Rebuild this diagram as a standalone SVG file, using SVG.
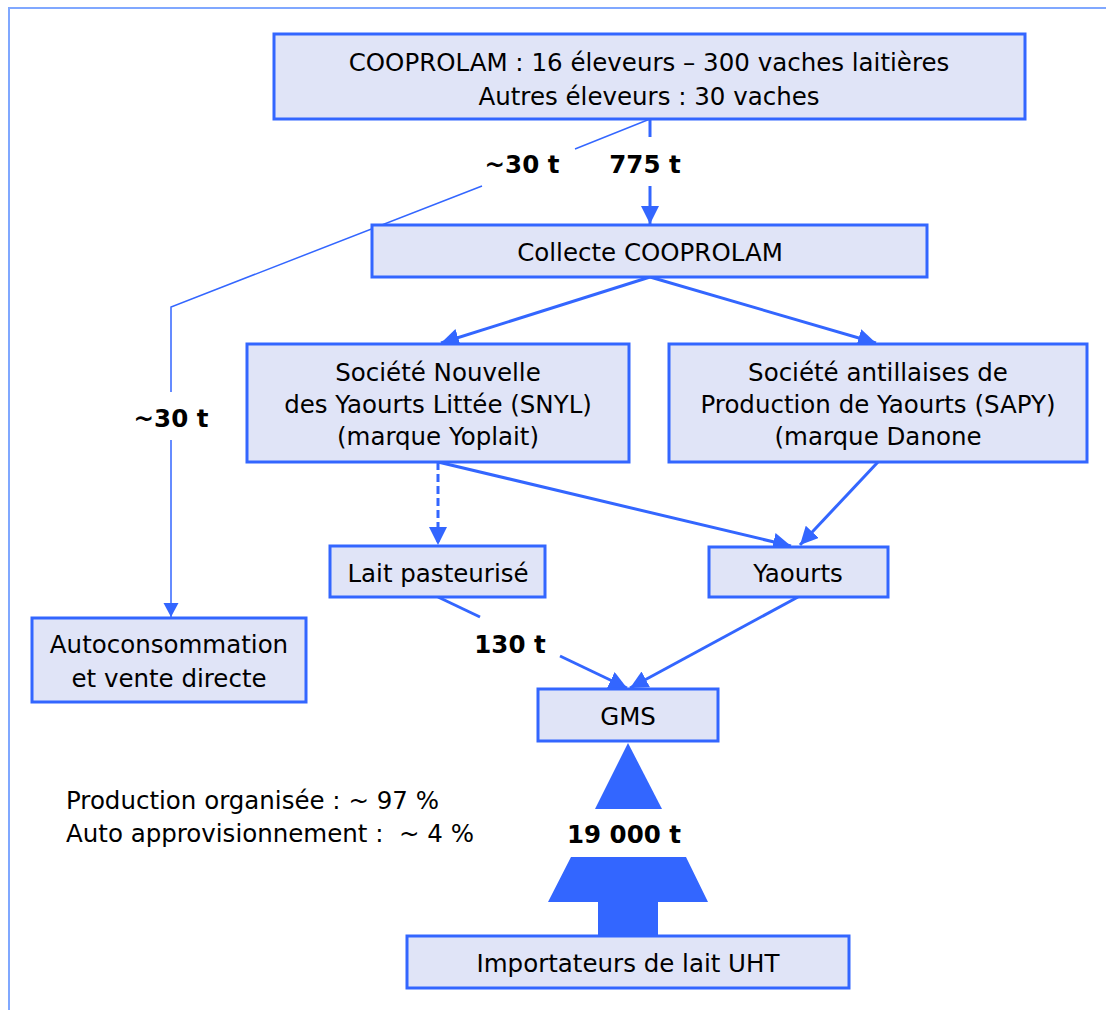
<svg xmlns="http://www.w3.org/2000/svg" width="1106" height="1010" viewBox="0 0 1106 1010">
<style>
.box{fill:#e0e4f7;stroke:#3366ff;stroke-width:3}
.t{font-family:'DejaVu Sans',Verdana,sans-serif;font-size:24.5px;fill:#000;text-anchor:middle}
.b{font-family:'DejaVu Sans',Verdana,sans-serif;font-size:24.5px;font-weight:bold;fill:#000;text-anchor:middle}
.l{font-family:'DejaVu Sans',Verdana,sans-serif;font-size:24.5px;fill:#000}
.c{fill:none;stroke:#3366ff;stroke-width:3}
.thin{fill:none;stroke:#3366ff;stroke-width:1.5}
.dash{stroke-dasharray:8 4}
.frame{fill:none;stroke:#80a8ff;stroke-width:2}
</style>
<defs>
<marker id="ah" markerUnits="userSpaceOnUse" markerWidth="20" markerHeight="18" refX="18" refY="9" orient="auto">
<path d="M0,0 L18,9 L0,18 z" fill="#3366ff"/>
</marker>
<marker id="ahs" markerUnits="userSpaceOnUse" markerWidth="16" markerHeight="16" refX="14" refY="7.5" orient="auto">
<path d="M0,0 L14,7.5 L0,15 z" fill="#3366ff"/>
</marker>
</defs>
<rect width="1106" height="1010" fill="#fff"/>
<path class="frame" d="M9,1010 V8 H1106"/>

<g id="connectors">
<path class="c" d="M650,119 V137"/>
<path class="c" d="M650,186 V224" marker-end="url(#ah)"/>
<path class="thin" d="M650,119 L575,149"/>
<path class="thin" d="M482,186 L171,307 V392"/>
<path class="thin" d="M171,440 V617" marker-end="url(#ahs)"/>
<path class="c" d="M650,277 L441,343" marker-end="url(#ah)"/>
<path class="c" d="M650,277 L876,343" marker-end="url(#ah)"/>
<path class="c dash" d="M438,462 V545" marker-end="url(#ah)"/>
<path class="c" d="M438,462 L791,546" marker-end="url(#ah)"/>
<path class="c" d="M878,462 L800,545" marker-end="url(#ah)"/>
<path class="c" d="M438,597 L480,617"/>
<path class="c" d="M560,656 L627,688" marker-end="url(#ah)"/>
<path class="c" d="M798,597 L630,688" marker-end="url(#ah)"/>
<g id="import-arrow" fill="#3366ff">
<polygon points="628,743 595,809 662,809"/>
<polygon points="571,857 686,857 708,902 658,902 658,936 598,936 598,902 548,902"/>
</g>
</g>

<g id="labels">
<text class="b" x="522" y="173">~30 t</text>
<text class="b" x="645" y="173">775 t</text>
<text class="b" x="171" y="427">~30 t</text>
<text class="b" x="510" y="653">130 t</text>
<text class="b" x="624" y="843">19 000 t</text>
<text class="l" x="66" y="809">Production organisée : ~ 97 %</text>
<text class="l" x="66" y="842" xml:space="preserve">Auto approvisionnement :  ~ 4 %</text>
</g>

<g id="cooprolam">
<rect class="box" x="274" y="34" width="751" height="85"/>
<text class="t" x="649" y="70.5">COOPROLAM : 16 éleveurs – 300 vaches laitières</text>
<text class="t" x="649" y="105">Autres éleveurs : 30 vaches</text>
</g>
<g id="collecte">
<rect class="box" x="372" y="225" width="555" height="52"/>
<text class="t" x="650" y="261">Collecte COOPROLAM</text>
</g>
<g id="snyl">
<rect class="box" x="247" y="344" width="382" height="118"/>
<text class="t" x="438" y="381">Société Nouvelle</text>
<text class="t" x="438" y="413">des Yaourts Littée (SNYL)</text>
<text class="t" x="438" y="445">(marque Yoplait)</text>
</g>
<g id="sapy">
<rect class="box" x="669" y="344" width="418" height="118"/>
<text class="t" x="878" y="381">Société antillaises de</text>
<text class="t" x="878" y="413">Production de Yaourts (SAPY)</text>
<text class="t" x="878" y="445">(marque Danone</text>
</g>
<g id="lait">
<rect class="box" x="330" y="546" width="215" height="51"/>
<text class="t" x="438" y="582">Lait pasteurisé</text>
</g>
<g id="yaourts">
<rect class="box" x="709" y="547" width="179" height="50"/>
<text class="t" x="798" y="582">Yaourts</text>
</g>
<g id="autoconso">
<rect class="box" x="32" y="618" width="274" height="84"/>
<text class="t" x="169" y="653">Autoconsommation</text>
<text class="t" x="169" y="687">et vente directe</text>
</g>
<g id="gms">
<rect class="box" x="538" y="689" width="180" height="52"/>
<text class="t" x="628" y="725">GMS</text>
</g>
<g id="importateurs">
<rect class="box" x="407" y="936" width="442" height="52"/>
<text class="t" x="628" y="972">Importateurs de lait UHT</text>
</g>
</svg>
